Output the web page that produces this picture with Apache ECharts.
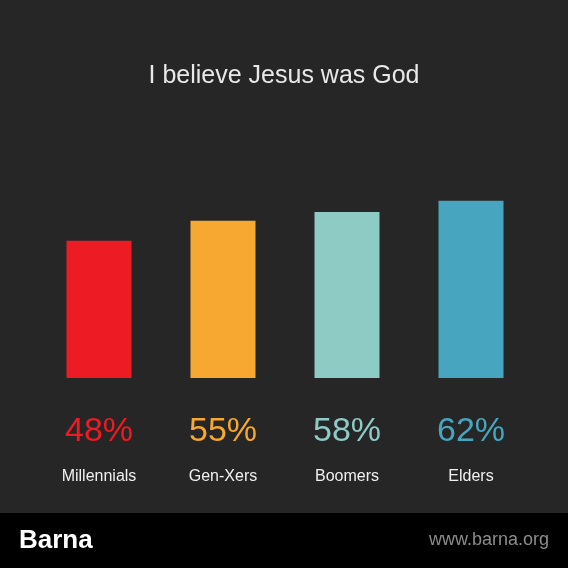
<!DOCTYPE html>
<html>
<head>
<meta charset="utf-8">
<script src="https://cdn.jsdelivr.net/npm/echarts@6/dist/echarts.min.js"></script>
<style>
html,body{margin:0;padding:0;background:#262626;}
#c{width:568px;height:568px;}
</style>
</head>
<body>
<div id="c"></div>
<script>
const categories = ['Millennials', 'Gen-Xers', 'Boomers', 'Elders'];
const values = [48, 55, 58, 62];
const title = 'I believe Jesus was God';
const palette = ['#ed1c24', '#f7a830', '#8ecbc4', '#48a5bf'];
const FONT = '"Liberation Sans", Arial, Helvetica, sans-serif';

const chart = echarts.init(document.getElementById('c'), null, {renderer: 'canvas'});
chart.setOption({
  backgroundColor: '#262626',
  animation: false,
  title: {
    text: title,
    left: 'center',
    top: 59,
    textStyle: {color: '#e8e8e8', fontSize: 25, fontWeight: 'normal', fontFamily: FONT}
  },
  grid: {left: 37, right: 35, top: 92, bottom: 190},
  xAxis: {
    type: 'category',
    data: categories,
    axisLine: {show: false},
    axisTick: {show: false},
    axisLabel: {color: '#f0f0f0', fontSize: 16, fontFamily: FONT, margin: 91}
  },
  yAxis: {
    type: 'value', min: 0, max: 100, show: false,
    splitLine: {show: false}
  },
  series: [{
    type: 'bar',
    barWidth: 65,
    data: values.map((v, i) => ({
      value: v,
      itemStyle: {color: palette[i]},
      label: {color: palette[i]}
    })),
    label: {
      show: true,
      position: 'bottom',
      distance: 37,
      fontSize: 34,
      fontFamily: FONT,
      formatter: p => p.value + '%'
    }
  }],
  graphic: [
    {type: 'rect', shape: {x: 0, y: 513, width: 568, height: 55}, style: {fill: '#000'}, silent: true},
    {type: 'text', left: 19, top: 528, style: {text: 'Barna', fill: '#fff', font: 'bold 26px ' + FONT}},
    {type: 'text', right: 19, top: 531, style: {text: 'www.barna.org', fill: '#8c8c8c', font: '18px ' + FONT}}
  ]
});
</script>
</body>
</html>
